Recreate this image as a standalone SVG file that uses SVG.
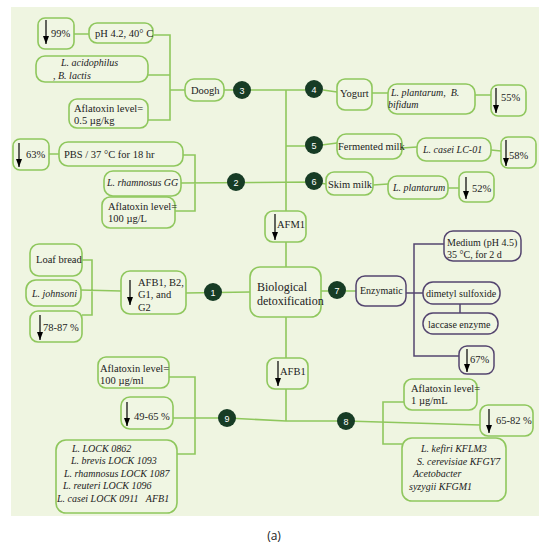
<svg xmlns="http://www.w3.org/2000/svg" width="549" height="550" viewBox="0 0 549 550">
<defs>
<marker id="ah" viewBox="0 0 8 6" refX="8" refY="3" markerWidth="8" markerHeight="6" markerUnits="userSpaceOnUse" orient="auto">
<path d="M0,0 L8,3 L0,6 Z" fill="#000"/>
</marker>
<style>
.bx{fill:#f0f6e3;stroke:#8fc75d;stroke-width:1.6}
.px{fill:#f0f6e3;stroke:#54456f;stroke-width:1.5}
.ln{stroke:#8fc75d;stroke-width:1.6;fill:none}
.pl{stroke:#54456f;stroke-width:1.5;fill:none}
.ci{fill:#173c25}
.cn{font-family:"Liberation Sans",Arial,sans-serif;font-size:9px;fill:#fff;text-anchor:middle}
.t{font-family:"Liberation Serif","Times New Roman",serif;font-size:10.5px;fill:#222}
.i{font-family:"Liberation Serif","Times New Roman",serif;font-size:10px;font-style:italic;fill:#222}
.ar{stroke:#000;stroke-width:1.2;marker-end:url(#ah)}
</style>
</defs>
<rect x="0" y="0" width="549" height="550" fill="#fff"/>
<rect x="11" y="7" width="528" height="509" fill="#eff5e1"/>

<g id="connectors">
<path class="ln" d="M74,34 H89 M153,35 H170 V120 H148 M148,75 H170 M170,90 H185 M224,90 H314 M286,90 V211 M323,90 L337,92 M372,93 H388 M475,95 H491"/>
<path class="ln" d="M286,146 H314 L337,143 M402,148 L417,147 M491,150 L501,151"/>
<path class="ln" d="M49,154 H59 M183,155 H195 V211 H175 M181,183 L314,182 L326,184 M373,185 L388,184 M448,188 H459"/>
<path class="ln" d="M286,242 V267 M286,317 V358 M286,389 V421"/>
<path class="ln" d="M82,260 H92 V315 H82 M81,290 L121,291 M186,293 L250,292 M321,291 H356"/>
<path class="ln" d="M169,377 H195 V454 H177 M173,418 L227,418 L286,421 L346,421 L480,425"/>
<path class="ln" d="M404,402 H383 V444 H402"/>
<path class="pl" d="M406,293 H414 M445,244 H414 V356 H459 M414,293 H423 M460,304 V313"/>
</g>

<g id="n3"><circle class="ci" cx="242" cy="90" r="9"/><text class="cn" x="242" y="93.5">3</text></g>
<g id="n4"><circle class="ci" cx="314" cy="89" r="9"/><text class="cn" x="314" y="92.5">4</text></g>
<g id="n5"><circle class="ci" cx="314" cy="145" r="9"/><text class="cn" x="314" y="148.5">5</text></g>
<g id="n6"><circle class="ci" cx="314" cy="181" r="9"/><text class="cn" x="314" y="184.5">6</text></g>
<g id="n2"><circle class="ci" cx="236" cy="182" r="9"/><text class="cn" x="236" y="185.5">2</text></g>
<g id="n1"><circle class="ci" cx="213" cy="292" r="9"/><text class="cn" x="213" y="295.5">1</text></g>
<g id="n7"><circle class="ci" cx="337" cy="290" r="9"/><text class="cn" x="337" y="293.5">7</text></g>
<g id="n9"><circle class="ci" cx="227" cy="418" r="9"/><text class="cn" x="227" y="421.5">9</text></g>
<g id="n8"><circle class="ci" cx="346" cy="421" r="9"/><text class="cn" x="346" y="424.5">8</text></g>

<g id="r99"><rect class="bx" x="38" y="18" width="36" height="31" rx="7"/><line class="ar" x1="46" y1="20" x2="46" y2="44"/><text class="t" x="51" y="37">99%</text></g>
<g id="ph"><rect class="bx" x="89" y="23" width="64" height="20" rx="8"/><text class="t" x="95" y="37">pH 4.2, 40° C</text></g>
<g id="acid"><rect class="bx" x="36" y="56" width="112" height="26" rx="9"/><text class="i" x="61" y="66">L. acidophilus</text><text class="i" x="53" y="79">, B. lactis</text></g>
<g id="doogh"><rect class="bx" x="185" y="79" width="39" height="22" rx="9"/><text class="t" x="191" y="94">Doogh</text></g>
<g id="afl05"><rect class="bx" x="69" y="99" width="79" height="29" rx="8"/><text class="t" x="74" y="112">Aflatoxin level=</text><text class="t" x="74" y="124">0.5 µg/kg</text></g>

<g id="yogurt"><rect class="bx" x="337" y="79" width="35" height="31" rx="8"/><text class="t" x="340" y="97">Yogurt</text></g>
<g id="lpbb"><rect class="bx" x="388" y="84" width="87" height="30" rx="9"/><text class="i" x="391" y="96" xml:space="preserve">L. plantarum,  B.</text><text class="i" x="388" y="108">bifidum</text></g>
<g id="r55"><rect class="bx" x="491" y="85" width="35" height="31" rx="7"/><line class="ar" x1="496" y1="88" x2="496" y2="113"/><text class="t" x="501" y="101">55%</text></g>

<g id="fm"><rect class="bx" x="337" y="134" width="65" height="25" rx="9"/><text class="t" x="338" y="150">Fermented milk</text></g>
<g id="lcasei"><rect class="bx" x="417" y="138" width="74" height="23" rx="9"/><text class="i" x="423" y="153">L. casei LC-01</text></g>
<g id="r58"><rect class="bx" x="501" y="137" width="35" height="31" rx="7"/><line class="ar" x1="506" y1="140" x2="506" y2="166"/><text class="t" x="509" y="159">58%</text></g>

<g id="skim"><rect class="bx" x="326" y="172" width="47" height="23" rx="8"/><text class="t" x="328" y="188">Skim milk</text></g>
<g id="lplant"><rect class="bx" x="388" y="176" width="60" height="23" rx="9"/><text class="i" x="393" y="191">L. plantarum</text></g>
<g id="r52"><rect class="bx" x="459" y="172" width="35" height="30" rx="7"/><line class="ar" x1="466" y1="177" x2="466" y2="199"/><text class="t" x="472" y="192">52%</text></g>

<g id="r63"><rect class="bx" x="13" y="139" width="36" height="31" rx="7"/><line class="ar" x1="19" y1="143" x2="19" y2="167"/><text class="t" x="26" y="158">63%</text></g>
<g id="pbs"><rect class="bx" x="59" y="142" width="124" height="24" rx="9"/><text class="t" x="64" y="158">PBS / 37 °C for 18 hr</text></g>
<g id="lrgg"><rect class="bx" x="104" y="171" width="77" height="25" rx="9"/><text class="i" x="107" y="186">L. rhamnosus GG</text></g>
<g id="afl100L"><rect class="bx" x="102" y="197" width="73" height="31" rx="8"/><text class="t" x="108" y="210">Aflatoxin level=</text><text class="t" x="108" y="222">100 µg/L</text></g>

<g id="afm1"><rect class="bx" x="265" y="211" width="41" height="31" rx="8"/><line class="ar" x1="275" y1="214" x2="275" y2="240"/><text class="t" x="277" y="228">AFM1</text></g>

<g id="loaf"><rect class="bx" x="30" y="244" width="52" height="32" rx="9"/><text class="t" x="36" y="263">Loaf bread</text></g>
<g id="ljohn"><rect class="bx" x="26" y="280" width="55" height="26" rx="10"/><text class="i" x="32" y="297">L. johnsoni</text></g>
<g id="r7887"><rect class="bx" x="30" y="311" width="52" height="31" rx="8"/><line class="ar" x1="40" y1="315" x2="40" y2="340"/><text class="t" x="43" y="331">78-87 %</text></g>
<g id="afb1b2"><rect class="bx" x="121" y="271" width="65" height="43" rx="9"/><line class="ar" x1="130" y1="280" x2="130" y2="305"/><text class="t" x="138" y="286">AFB1, B2,</text><text class="t" x="138" y="298">G1, and</text><text class="t" x="138" y="311">G2</text></g>

<g id="bio"><rect class="bx" x="250" y="267" width="71" height="50" rx="10"/><text class="t" style="font-size:12px" x="257" y="291">Biological</text><text class="t" style="font-size:12px" x="257" y="305">detoxification</text></g>

<g id="enz"><rect class="px" x="356" y="276" width="50" height="30" rx="9"/><text class="t" style="font-size:10px" x="360" y="294">Enzymatic</text></g>
<g id="medium"><rect class="px" x="444" y="231" width="77" height="30" rx="9"/><text class="t" style="font-size:10px" x="447" y="246">Medium (pH 4.5)</text><text class="t" style="font-size:10px" x="447" y="258">35 °C, for 2 d</text></g>
<g id="dmso"><rect class="px" x="423" y="282" width="77" height="22" rx="10"/><text class="t" style="font-size:10px" x="426" y="297">dimetyl sulfoxide</text></g>
<g id="laccase"><rect class="px" x="423" y="313" width="75" height="21" rx="10"/><text class="t" style="font-size:10px" x="428" y="328">laccase enzyme</text></g>
<g id="r67"><rect class="px" x="459" y="346" width="35" height="28" rx="8"/><line class="ar" x1="467" y1="349" x2="467" y2="372"/><text class="t" x="470" y="363">67%</text></g>

<g id="afb1"><rect class="bx" x="267" y="358" width="41" height="31" rx="8"/><line class="ar" x1="278" y1="361" x2="278" y2="386"/><text class="t" x="280" y="375">AFB1</text></g>

<g id="afl100ml"><rect class="bx" x="98" y="357" width="71" height="31" rx="8"/><text class="t" x="100" y="372">Aflatoxin level=</text><text class="t" x="100" y="384">100 µg/ml</text></g>
<g id="r4965"><rect class="bx" x="121" y="397" width="52" height="32" rx="9"/><line class="ar" x1="127" y1="402" x2="127" y2="426"/><text class="t" x="134" y="420">49-65 %</text></g>
<g id="lock"><rect class="bx" x="56" y="440" width="121" height="73" rx="10"/>
<text class="i" x="72" y="452">L. LOCK 0862</text>
<text class="i" x="71" y="464">L. brevis LOCK 1093</text>
<text class="i" x="64" y="477">L. rhamnosus LOCK 1087</text>
<text class="i" x="63" y="489">L. reuteri LOCK 1096</text>
<text class="i" x="57" y="502" xml:space="preserve">L. casei LOCK 0911   AFB1</text></g>

<g id="afl1"><rect class="bx" x="404" y="379" width="73" height="31" rx="8"/><text class="t" x="411" y="392">Aflatoxin level=</text><text class="t" x="411" y="404">1 µg/mL</text></g>
<g id="r6582"><rect class="bx" x="480" y="405" width="53" height="31" rx="8"/><line class="ar" x1="489" y1="409" x2="489" y2="433"/><text class="t" x="496" y="424">65-82 %</text></g>
<g id="kefiri"><rect class="bx" x="402" y="438" width="104" height="63" rx="10"/>
<text class="i" x="421" y="452">L. kefiri KFLM3</text>
<text class="i" x="417" y="465">S. cerevisiae KFGY7</text>
<text class="i" x="413" y="477">Acetobacter</text>
<text class="i" x="409" y="490">syzygii KFGM1</text></g>

<text x="274" y="540" text-anchor="middle" style="font-family:'Open Sans','Noto Sans',sans-serif;font-size:12px;fill:#222">(a)</text>
</svg>
